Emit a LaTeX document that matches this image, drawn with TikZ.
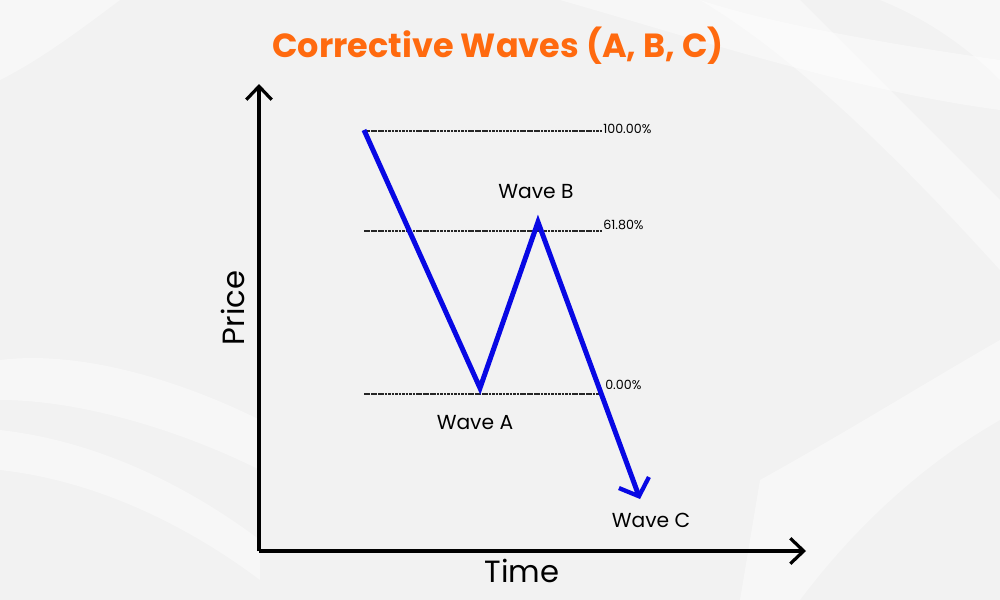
\documentclass[tikz,border=0pt]{standalone}
\usepackage{fontspec}
\setmainfont{Poppins}
\usetikzlibrary{arrows.meta}
\definecolor{bgc}{HTML}{F2F2F2}
\definecolor{titlec}{HTML}{FF6A0F}
\definecolor{wavec}{HTML}{0808E4}
\tikzset{
  axis/.style={line width=3.2pt*0.75, -{Straight Barb[length=10pt,width=19pt,line width=2.4pt]}},
  wave/.style={wavec, line width=5pt*0.75, line join=miter},
  level/.style={black!85, line width=0.8pt, dash pattern=on 2pt off 0.6pt},
  pct/.style={font=\fontsize{9.5pt}{10pt}\selectfont, anchor=west, inner sep=0pt},
  wlabel/.style={font=\fontsize{15.2pt}{17pt}\selectfont, inner sep=0pt},
  alabel/.style={font=\fontsize{23pt}{25pt}\selectfont, inner sep=0pt},
  swoosh/.style={fill=white, opacity=0.4, draw=none}
}
\begin{document}
\begin{tikzpicture}[x=0.75pt,y=-0.75pt]
\useasboundingbox (0,0) rectangle (1000,600);
\fill[bgc] (0,0) rectangle (1000,600);
% background swooshes
\fill[swoosh] (560,0) .. controls (700,40) and (850,90) .. (1000,110) -- (1000,60) .. controls (860,40) and (760,20) .. (700,0) -- cycle;
\fill[swoosh] (700,0) .. controls (800,60) and (900,160) .. (1000,270) -- (1000,200) .. controls (920,120) and (860,60) .. (800,0) -- cycle;
\fill[swoosh] (880,0) .. controls (930,20) and (970,50) .. (1000,80) -- (1000,0) -- cycle;
\fill[swoosh] (0,360) .. controls (80,350) and (180,380) .. (260,420) -- (260,470) .. controls (180,430) and (80,400) .. (0,400) -- cycle;
\fill[swoosh] (0,430) .. controls (90,440) and (180,480) .. (260,540) -- (260,580) .. controls (180,520) and (90,480) .. (0,470) -- cycle;
\fill[swoosh] (0,0) -- (120,0) .. controls (80,30) and (40,60) .. (0,80) -- cycle;
\fill[swoosh] (760,480) .. controls (850,430) and (930,380) .. (1000,340) -- (1000,420) .. controls (930,460) and (860,520) .. (800,600) -- (740,600) -- cycle;

% title
\node[font=\fontsize{25.1pt}{28pt}\selectfont\bfseries, text=titlec, inner sep=0pt] (title) at (498,46) {Corrective Waves (A, B, C)};

% axes
\coordinate (origin) at (259,551);
\coordinate (ytop) at (259,84);
\coordinate (xend) at (806,551);
\draw[axis] (origin) -- (ytop);
\draw[axis] (origin) -- (xend);
\node[alabel, rotate=90] (price) at (233,308) {Price};
\node[alabel] (time) at (522,571) {Time};

% levels
\coordinate (l100a) at (364,131);
\coordinate (l100b) at (602,131);
\coordinate (l618a) at (364,231);
\coordinate (l618b) at (602,231);
\coordinate (l0a) at (364,394);
\coordinate (l0b) at (600,394);
\draw[level] (l100a) -- (l100b);
\draw[level] (l618a) -- (l618b);
\draw[level] (l0a) -- (l0b);
\node[pct] (p100) at (603,129) {100.00\%};
\node[pct] (p618) at (603,225) {61.80\%};
\node[pct] (p0) at (605,385) {0.00\%};

% wave path
\coordinate (w0) at (364,130);
\coordinate (wA) at (480,388);
\coordinate (wB) at (538,222);
\coordinate (wC) at (640,499);
\draw[wave, -{Straight Barb[length=11pt,width=24pt,line width=3.2pt]}] (w0) -- (wA) -- (wB) -- (wC);

\node[wlabel] (lB) at (536,192) {Wave B};
\node[wlabel] (lA) at (475,423) {Wave A};
\node[wlabel] (lC) at (651,520) {Wave C};
\end{tikzpicture}
\end{document}
